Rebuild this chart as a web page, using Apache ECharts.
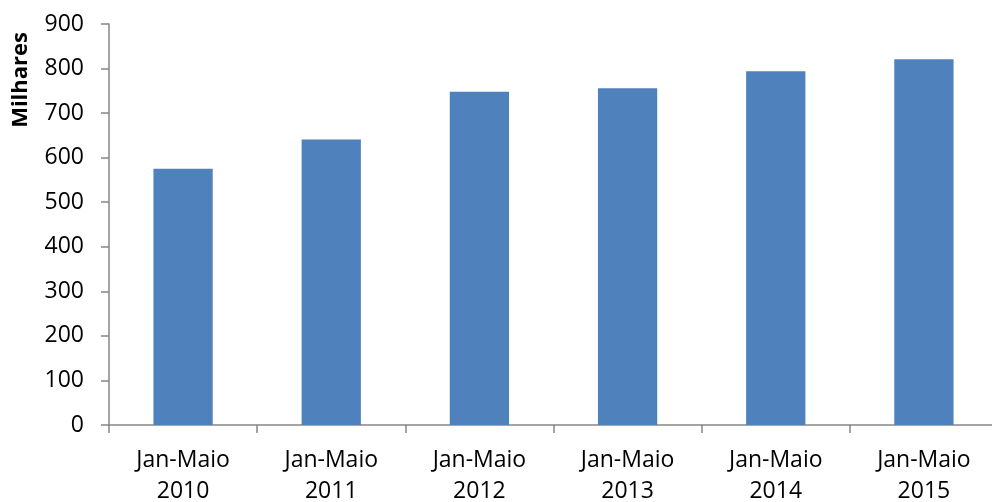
<!DOCTYPE html>
<html>
<head>
<meta charset="UTF-8">
<title>Jan-Maio</title>
<script src="https://cdn.jsdelivr.net/npm/echarts@6/dist/echarts.min.js"></script>
<style>
  html, body { margin: 0; padding: 0; background: #fff; }
  #chart { width: 992px; height: 502px; }
</style>
</head>
<body>
<div id="chart"></div>
<script>
var categories = ['Jan-Maio\n2010', 'Jan-Maio\n2011', 'Jan-Maio\n2012', 'Jan-Maio\n2013', 'Jan-Maio\n2014', 'Jan-Maio\n2015'];
var values = [575, 641, 748, 756, 794, 821];
var axisName = 'Milhares';

var chart = echarts.init(document.getElementById('chart'));
var axisColor = '#868686';
var font = '"Open Sans", "Liberation Sans", sans-serif';

var option = {
    animation: false,
    grid: { left: 109, top: 24, width: 889, height: 401, outerBoundsMode: 'none', containLabel: false },
    graphic: [{
        type: 'text',
        left: 10,
        top: 32,
        rotation: Math.PI / 2,
        style: {
            text: axisName,
            font: 'bold 22px ' + font,
            fill: '#000'
        }
    }],
    xAxis: {
        type: 'category',
        data: categories,
        axisLine: { lineStyle: { color: axisColor, width: 1.5 } },
        axisTick: { show: true, inside: false, length: 8, lineStyle: { color: axisColor, width: 1.5 } },
        axisLabel: { color: '#000', fontSize: 23, fontFamily: font, lineHeight: 31, margin: 20, interval: 0 }
    },
    yAxis: {
        type: 'value',
        min: 0, max: 900, interval: 100,
        splitLine: { show: false },
        axisLine: { show: true, lineStyle: { color: axisColor, width: 1.5 } },
        axisTick: { show: true, inside: false, length: 8, lineStyle: { color: axisColor, width: 1.5 } },
        axisLabel: { color: '#000', fontSize: 23, fontFamily: font, margin: 25 }
    },
    series: [{
        type: 'bar',
        data: values,
        barWidth: '40%',
        itemStyle: { color: '#4F81BD' }
    }]
};
chart.setOption(option);
</script>
</body>
</html>
